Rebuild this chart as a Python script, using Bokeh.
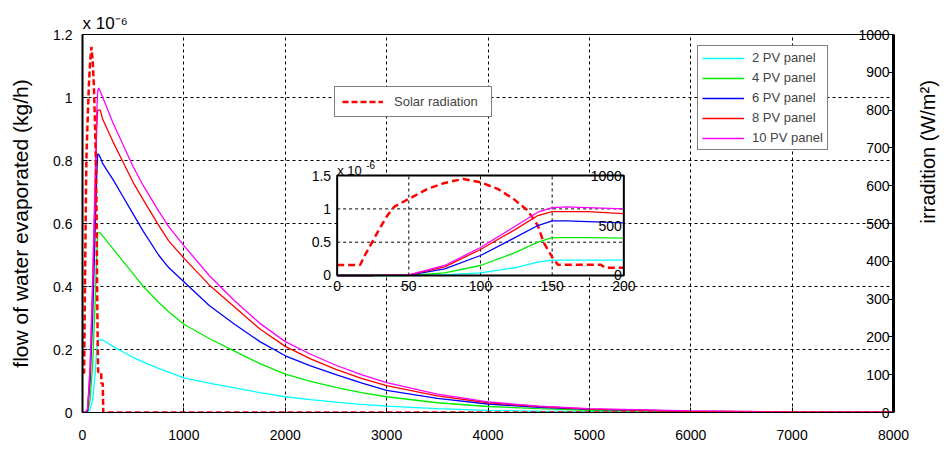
import math
from bokeh.plotting import figure
from bokeh.models import (Range1d, LinearAxis, FixedTicker, Legend, LegendItem, Label, Title)
from bokeh.core.properties import value
from bokeh.embed import file_html
from bokeh.resources import INLINE

FONT = "Liberation Sans"

# ---------------- data ----------------
time_s = [0, 25, 50, 75, 100, 125, 140, 150, 160, 175, 200, 250, 300, 400, 500, 600, 750,
          850, 1000, 1250, 1500, 1750, 2000, 2250, 2500, 2750, 3000, 3500, 4000, 4500,
          5000, 6000, 7000, 8000]
pv2 = [0, 0, 0, 0.01, 0.04, 0.12, 0.20, 0.23, 0.23, 0.23, 0.23, 0.22, 0.21, 0.192, 0.175,
       0.16, 0.14, 0.128, 0.11, 0.093, 0.078, 0.063, 0.05, 0.041, 0.033, 0.026, 0.02,
       0.012, 0.007, 0.004, 0.003, 0.001, 0.0005, 0]
pv4 = [0, 0, 0, 0.04, 0.15, 0.35, 0.50, 0.57, 0.57, 0.57, 0.56, 0.54, 0.52, 0.48, 0.44,
       0.40, 0.35, 0.32, 0.28, 0.235, 0.195, 0.155, 0.122, 0.099, 0.08, 0.063, 0.05,
       0.031, 0.019, 0.012, 0.007, 0.003, 0.001, 0]
pv6 = [0, 0, 0.005, 0.10, 0.30, 0.58, 0.75, 0.82, 0.82, 0.81, 0.79, 0.765, 0.74, 0.685,
       0.63, 0.575, 0.50, 0.46, 0.415, 0.34, 0.28, 0.225, 0.18, 0.148, 0.12, 0.094, 0.07,
       0.045, 0.027, 0.016, 0.010, 0.004, 0.0015, 0.0005]
pv8 = [0, 0, 0.01, 0.13, 0.39, 0.70, 0.90, 0.96, 0.96, 0.96, 0.93, 0.895, 0.86, 0.795,
       0.73, 0.675, 0.595, 0.545, 0.49, 0.405, 0.335, 0.265, 0.21, 0.17, 0.137, 0.108,
       0.085, 0.053, 0.031, 0.019, 0.011, 0.004, 0.002, 0.001]
pv10 = [0, 0, 0.01, 0.15, 0.42, 0.75, 0.95, 1.02, 1.03, 1.02, 1.00, 0.96, 0.92, 0.85,
        0.78, 0.72, 0.64, 0.59, 0.53, 0.435, 0.355, 0.283, 0.225, 0.185, 0.15, 0.12,
        0.095, 0.058, 0.034, 0.020, 0.012, 0.005, 0.002, 0.001]

sun_time = [0, 16, 20, 25, 30, 35, 40, 50, 63, 75, 88, 100, 112, 123, 133, 140, 144,
            150, 154, 184, 187, 200, 205, 8000]
sun_irr = [105, 105, 220, 350, 480, 600, 690, 767, 867, 927, 967, 933, 867, 767, 650, 500,
           333, 183, 107, 107, 77, 77, 0, 0]

series_labels = ["2 PV panel", "4 PV panel", "6 PV panel", "8 PV panel", "10 PV panel"]
series_values = [pv2, pv4, pv6, pv8, pv10]
series_colors = ["#00FFFF", "#00EE00", "#0000FF", "#FF0000", "#FF00FF"]

x_ticks = [0, 1000, 2000, 3000, 4000, 5000, 6000, 7000, 8000]
y_ticks = [0, 0.2, 0.4, 0.6, 0.8, 1.0, 1.2]
y_labels = ["0", "0.2", "0.4", "0.6", "0.8", "1", "1.2"]
irr_ticks = [0, 100, 200, 300, 400, 500, 600, 700, 800, 900, 1000]
irr_labels = ["0", "100", "200", "300", "400", "500", "600", "700", "800", "900", "1000"]

inset_x_ticks = [0, 50, 100, 150, 200]
inset_x_labels = ["0", "50", "100", "150", "200"]
inset_y_ticks = [0, 0.5, 1.0, 1.5]
inset_y_labels = ["0", "0.5", "1", "1.5"]
inset_irr_ticks = [0, 500, 1000]
inset_irr_labels = ["0", "500", "1000"]
inset_xgrid = [50, 100, 150]
inset_ygrid = [0.5, 1.0]

# ---------------- layout constants ----------------
X_MAX, Y_MAX, IRR_MAX = 8000, 1.2, 1000
INSET_XMAX, INSET_YMAX = 200, 1.5
INSET_X0, INSET_X1 = 2512, 5340      # inset frame in main data coords
INSET_Y0, INSET_Y1 = 0.435, 0.752

p = figure(width=952, height=448, output_backend="svg", toolbar_location=None,
           x_range=Range1d(0, X_MAX), y_range=Range1d(0, Y_MAX),
           min_border_left=82, min_border_right=59, min_border_top=34,
           min_border_bottom=36)
p.background_fill_color = "white"
p.border_fill_color = "white"
p.outline_line_color = "black"
p.outline_line_width = 1

# axes
for ax in (p.xaxis[0], p.yaxis[0]):
    ax.major_label_text_font = FONT
    ax.major_label_text_font_size = "14px"
    ax.major_label_text_color = "black"
    ax.major_tick_in = 5
    ax.major_tick_out = 0
    ax.minor_tick_line_color = None
    ax.axis_line_color = "black"
    ax.major_tick_line_color = "black"
p.xaxis.ticker = FixedTicker(ticks=x_ticks)
p.xaxis.major_label_standoff = 17
p.xaxis.axis_line_width = 1
p.yaxis.ticker = FixedTicker(ticks=y_ticks)
p.yaxis.major_label_overrides = dict(zip(y_ticks, y_labels))
p.yaxis.major_label_standoff = 10
p.yaxis.axis_line_width = 2
p.yaxis.axis_label = "flow of water evaporated (kg/h)"
p.yaxis.axis_label_text_font = FONT
p.yaxis.axis_label_text_font_size = "21px"
p.yaxis.axis_label_text_font_style = "normal"
p.yaxis.axis_label_text_color = "black"
p.yaxis.axis_label_standoff = 18

# right axis: labels drawn inside the frame, right-aligned against the axis line
p.extra_y_ranges = {"irr": Range1d(0, IRR_MAX)}
ra = LinearAxis(y_range_name="irr", ticker=FixedTicker(ticks=irr_ticks))
ra.major_label_overrides = {t: "\u2007" * (4 - len(s)) + s for t, s in zip(irr_ticks, irr_labels)}
ra.major_label_standoff = -35
ra.major_label_text_font = FONT
ra.major_label_text_font_size = "14px"
ra.major_label_text_color = "black"
ra.axis_line_width = 3
ra.axis_line_color = "black"
ra.major_tick_in = 5
ra.major_tick_out = 0
ra.minor_tick_line_color = None
p.add_layout(ra, "right")

# right axis title (separate label-only axis, reading bottom to top)
rt = LinearAxis(y_range_name="irr", ticker=FixedTicker(ticks=[]))
rt.axis_line_color = None
rt.major_tick_line_color = None
rt.minor_tick_line_color = None
rt.major_tick_in = 0
rt.major_tick_out = 0
rt.major_label_standoff = 0
rt.axis_label = "irradition (W/m\u00b2)"
rt.axis_label_orientation = math.pi / 2
rt.axis_label_text_font = FONT
rt.axis_label_text_font_size = "20px"
rt.axis_label_text_font_style = "normal"
rt.axis_label_text_color = "black"
rt.axis_label_standoff = 34
p.add_layout(rt, "right")

# "x 10^-6" multiplier above the frame
p.add_layout(Title(text="x 10\u207b\u2076", align="left", standoff=4,
                   text_font=FONT, text_font_size="17px", text_font_style="normal",
                   text_color="black"), "above")

# grids
for g, t in ((p.xgrid, x_ticks), (p.ygrid, y_ticks)):
    g.ticker = FixedTicker(ticks=t)
    g.grid_line_color = "black"
    g.grid_line_dash = "3 3"
    g.grid_line_width = 1

# main curves
main_renderers = []
for vals, col in zip(series_values, series_colors):
    r = p.line(time_s, vals, line_color=col, line_width=1.3)
    main_renderers.append(r)
sun_r = p.line(sun_time, sun_irr, y_range_name="irr", line_color="#FF0000",
               line_width=2.5, line_dash="6 3")

# ---------------- inset ----------------
sub = p.subplot(x_source=Range1d(0, INSET_XMAX), y_source=Range1d(0, INSET_YMAX),
                x_target=Range1d(INSET_X0, INSET_X1), y_target=Range1d(INSET_Y0, INSET_Y1))
sub_irr = p.subplot(x_source=Range1d(0, INSET_XMAX), y_source=Range1d(0, IRR_MAX),
                    x_target=Range1d(INSET_X0, INSET_X1), y_target=Range1d(INSET_Y0, INSET_Y1))

sub.quad(left=[0], right=[INSET_XMAX], bottom=[0], top=[INSET_YMAX],
         fill_color="white", line_color=None)
sub.segment(x0=inset_xgrid, y0=[0] * len(inset_xgrid), x1=inset_xgrid,
            y1=[INSET_YMAX] * len(inset_xgrid), line_color="black", line_dash="3 3")
sub.segment(x0=[0] * len(inset_ygrid), y0=inset_ygrid, x1=[INSET_XMAX] * len(inset_ygrid),
            y1=inset_ygrid, line_color="black", line_dash="3 3")

inset_time = [t for t in time_s if t <= INSET_XMAX]
n_in = len(inset_time)
sun_n = len([t for t in sun_time if t <= INSET_XMAX])
sub_irr.line(sun_time[:sun_n], sun_irr[:sun_n], line_color="#FF0000", line_width=2.5,
             line_dash="7 4")
for vals, col in zip(series_values, series_colors):
    sub.line(inset_time, vals[:n_in], line_color=col, line_width=1.3)

sub.quad(left=[0], right=[INSET_XMAX], bottom=[0], top=[INSET_YMAX],
         fill_color=None, line_color="black", line_width=2)

sub.text(x=inset_x_ticks, y=[0] * len(inset_x_ticks), text=inset_x_labels,
         text_align="center", text_baseline="top", y_offset=6,
         text_font=value(FONT), text_font_size="14px", text_color="black")
sub.text(x=[0] * len(inset_y_ticks), y=inset_y_ticks, text=inset_y_labels,
         text_align="right", text_baseline="middle", x_offset=-6,
         text_font=value(FONT), text_font_size="14px", text_color="black")
sub_irr.text(x=[INSET_XMAX] * len(inset_irr_ticks), y=inset_irr_ticks, text=inset_irr_labels,
             text_align="right", text_baseline="middle", x_offset=-2,
             text_font=value(FONT), text_font_size="14px", text_color="black")

p.add_layout(Label(x=INSET_X0, y=INSET_Y1, y_offset=5, text="x 10",
                   text_baseline="alphabetic", text_font=FONT, text_font_size="13px",
                   text_color="black"))
p.add_layout(Label(x=INSET_X0, y=INSET_Y1, x_offset=29, y_offset=11, text="-6",
                   text_baseline="alphabetic", text_font=FONT, text_font_size="10px",
                   text_color="black"))

# legends
leg = Legend(items=[LegendItem(label=l, renderers=[r]) for l, r in zip(series_labels, main_renderers)],
             location=(615, 262), margin=0, padding=4, spacing=5,
             glyph_width=42, glyph_height=14, label_height=14, label_standoff=8,
             label_text_font=FONT, label_text_font_size="13px",
             border_line_color="black", border_line_width=1,
             background_fill_color="white", background_fill_alpha=1)
p.add_layout(leg)
leg2 = Legend(items=[LegendItem(label="Solar radiation", renderers=[sun_r])],
              location=(252, 295), margin=0, padding=7,
              glyph_width=41, glyph_height=15, label_height=15, label_standoff=11,
              label_width=90,
              label_text_font=FONT, label_text_font_size="13px",
              border_line_color="black", border_line_width=1,
              background_fill_color="white", background_fill_alpha=1)
p.add_layout(leg2)

open("out.html", "w").write(file_html(p, INLINE))
